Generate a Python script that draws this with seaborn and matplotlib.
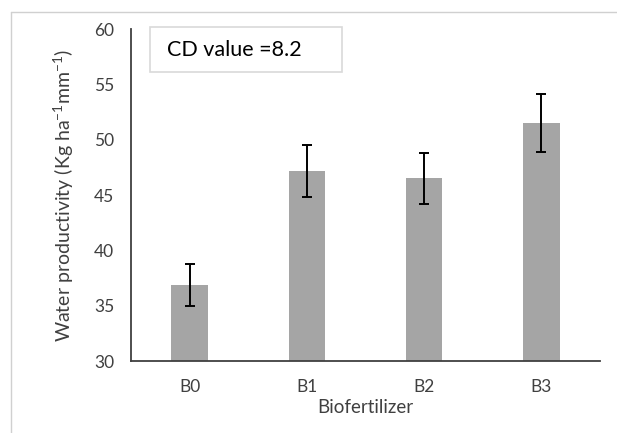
import matplotlib
matplotlib.use("Agg")
import matplotlib.pyplot as plt
import seaborn as sns
import pandas as pd
from matplotlib.patches import Rectangle
from matplotlib.lines import Line2D

categories = ["B0", "B1", "B2", "B3"]
values = [36.9, 47.2, 46.5, 51.5]
errors = [1.9, 2.35, 2.3, 2.6]
yticks = [30, 35, 40, 45, 50, 55, 60]
cd_text = "CD value =8.2"

sns.set_style("white")
plt.rcParams["font.family"] = ["Lato", "DejaVu Sans"]
plt.rcParams["mathtext.fontset"] = "custom"
plt.rcParams["mathtext.rm"] = "Lato"
plt.rcParams["mathtext.it"] = "Lato"

txt = "#404040"
fig = plt.figure(figsize=(6.17, 4.33), dpi=100)
ax = fig.add_axes([131/617, 1-361/433, (600-131)/617, (361-29)/433])

df = pd.DataFrame({"cat": categories, "val": values})
sns.barplot(data=df, x="cat", y="val", color="#a5a5a5", width=0.31,
            saturation=1, errorbar=None, ax=ax, edgecolor="none")
ax.errorbar(range(len(categories)), values, yerr=errors, fmt="none",
            ecolor="black", elinewidth=1.4, capsize=3.3, capthick=1.4)

ax.set_ylim(30, 60)
ax.set_xlim(-0.5, 3.5)
ax.set_yticks(yticks)
ax.tick_params(axis="both", length=0, labelsize=12.5, colors=txt)
ax.tick_params(axis="x", pad=13)
ax.tick_params(axis="y", pad=12)
for s in ["top", "right"]:
    ax.spines[s].set_visible(False)
for s in ["left", "bottom"]:
    ax.spines[s].set_color("#404040")
    ax.spines[s].set_linewidth(1.3)
ax.set_xlabel("Biofertilizer", fontsize=13.5, color=txt, labelpad=3)
ax.set_ylabel("Water productivity (Kg ha$^{-1}$mm$^{-1}$)", fontsize=14,
              color=txt, labelpad=13)

# CD value box
fig.add_artist(Rectangle((150/617, 1-72/433), 192/617, 45/433,
                         transform=fig.transFigure, facecolor="white",
                         edgecolor="#d9d9d9", linewidth=1.2))
fig.text(167/617, 1-50/433, cd_text, fontsize=15.5, color="black",
         va="center", ha="left")

# outer frame (left and top)
fig.add_artist(Line2D([11/617, 11/617], [0, 1-12/433], transform=fig.transFigure,
                      color="#d0d0d0", linewidth=1))
fig.add_artist(Line2D([11/617, 1], [1-12/433, 1-12/433], transform=fig.transFigure,
                      color="#d0d0d0", linewidth=1))

fig.savefig("out.png", dpi=100)
